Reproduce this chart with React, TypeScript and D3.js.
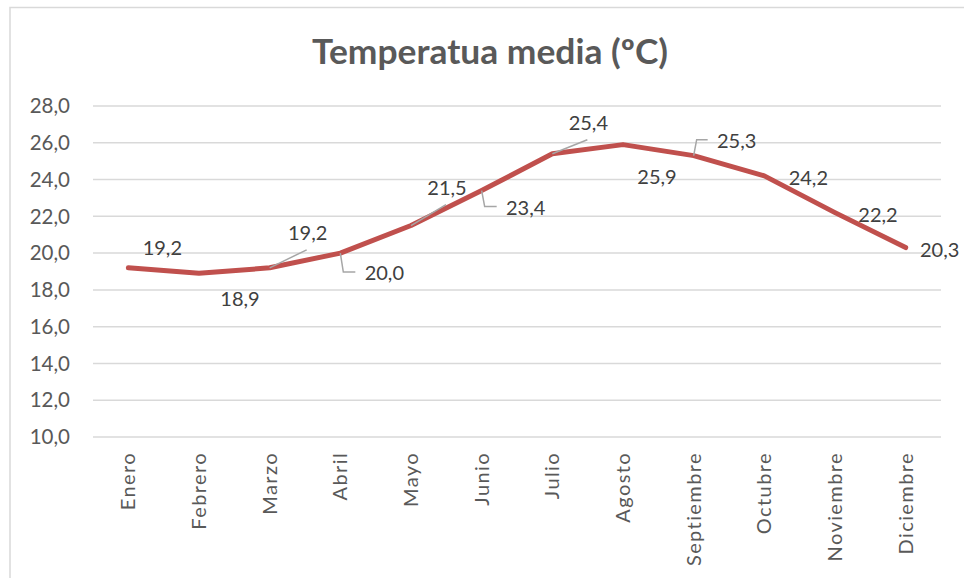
import React from "react";
import * as d3 from "d3";

const months = ["Enero","Febrero","Marzo","Abril","Mayo","Junio","Julio","Agosto","Septiembre","Octubre","Noviembre","Diciembre"];
const temps = [19.2, 18.9, 19.2, 20.0, 21.5, 23.4, 25.4, 25.9, 25.3, 24.2, 22.2, 20.3];
const yTicks = [10, 12, 14, 16, 18, 20, 22, 24, 26, 28];
const title = "Temperatua media (ºC)";

// manual label placement (as in the source chart)
const labelDx = [34, 41, 38, 44, 36, 44, 36, 34, 43, 44, 43, 34];
const labelDy = [-13, 33, -28, 27, -31, 24, -24, 39, -8, 9, 9, 9];
const leaderType = ["none","none","diag","elbow","diag","elbow","diag","none","elbow","none","none","none"];

const W = 964, H = 578;
const FONT = "Lato, 'Liberation Sans', sans-serif";

export default function App() {
  const x = d3.scaleBand<string>().domain(months).range([93, 941]);
  const y = d3.scaleLinear().domain([10, 28]).range([437, 106]);
  const fmt = (v: number) => v.toFixed(1).replace(".", ",");
  const line = d3.line<number>()
    .x((_, i) => (x(months[i]) as number) + x.bandwidth() / 2)
    .y((d) => y(d));

  return (
    <svg width={W} height={H} style={{ position: "absolute", left: 0, top: 0, background: "#fff" }}>
      <rect x={10} y={7.5} width={W} height={H} fill="#fff" stroke="#d9d9d9" strokeWidth={1.5} />
      <text x={490} y={64} textAnchor="middle" fontFamily={FONT} fontWeight="bold" fontSize={34} textLength={356} lengthAdjust="spacingAndGlyphs" fill="#595959">{title}</text>
      {yTicks.map((t) => (
        <g key={t}>
          <line x1={93} x2={941} y1={y(t)} y2={y(t)} stroke="#d9d9d9" strokeWidth={1.5} />
          <text x={70} y={y(t)} dy="0.35em" textAnchor="end" fontFamily={FONT} fontSize={20.5} fill="#595959">{fmt(t)}</text>
        </g>
      ))}
      {months.map((m) => {
        const cx = (x(m) as number) + x.bandwidth() / 2;
        return (
          <text key={m} transform={`translate(${cx},452) rotate(-90)`} dy="0.35em" textAnchor="end" fontFamily={FONT} fontSize={20} letterSpacing={1.4} fill="#595959">{m}</text>
        );
      })}
      <path d={line(temps) || ""} fill="none" stroke="#c0504d" strokeWidth={5} strokeLinejoin="round" strokeLinecap="round" />
      {temps.map((v, i) => {
        const px = (x(months[i]) as number) + x.bandwidth() / 2;
        const py = y(v);
        const lx = px + labelDx[i];
        const ly = py + labelDy[i];
        let leader = null;
        if (leaderType[i] === "diag") {
          leader = <path d={`M${px},${py}L${lx - 1},${ly + 10}`} stroke="#a6a6a6" strokeWidth={1.5} fill="none" />;
        } else if (leaderType[i] === "elbow") {
          leader = <path d={`M${px},${py}L${px + 3},${ly - 8}L${lx - 29},${ly - 8}`} stroke="#a6a6a6" strokeWidth={1.5} fill="none" />;
        }
        return (
          <g key={i}>
            {leader}
            <text x={lx} y={ly} textAnchor="middle" fontFamily={FONT} fontSize={20} fill="#404040">{fmt(v)}</text>
          </g>
        );
      })}
    </svg>
  );
}
